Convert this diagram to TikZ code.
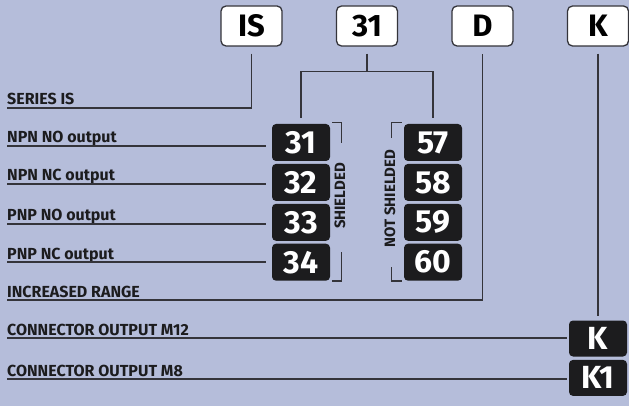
\documentclass[tikz,border=0pt]{standalone}
\usepackage{fontspec}
\setmainfont{Fira Sans}
\newfontfamily\codefont{Fira Sans Bold}
\usetikzlibrary{positioning}
\definecolor{bgblue}{RGB}{181,189,218}
\definecolor{inkgray}{RGB}{52,52,58}
\definecolor{boxblack}{RGB}{28,28,30}

\begin{document}
\begin{tikzpicture}[x=1pt,y=-1pt,
  codebox/.style={draw=inkgray,fill=white,line width=1.3pt,rounded corners=5pt,
    minimum width=61pt,minimum height=40pt,inner sep=0pt,
    font=\codefont\fontsize{31}{31}\selectfont},
  numbox/.style={fill=boxblack,text=white,rounded corners=4pt,
    minimum width=58pt,minimum height=37pt,inner sep=0pt,
    font=\codefont\fontsize{32}{32}\selectfont},
  lbl/.style={anchor=base west,inner sep=0pt,text=boxblack,
    font=\codefont\fontsize{16}{16}\selectfont},
  tag/.style={rotate=90,inner sep=0pt,text=boxblack,
    font=\codefont\fontsize{15}{15}\selectfont},
  conn/.style={draw=inkgray,line width=1.2pt}]
\useasboundingbox[fill=bgblue] (0,0) rectangle (629,406);

% code boxes on top
\node[codebox] (is) at (251.5,26) {IS};
\node[codebox] (ser) at (367,26) {31};
\node[codebox] (d) at (482.5,26) {D};
\node[codebox] (k) at (598,26) {K};

% output codes
\node[numbox] (n31) at (301,142.5) {31};
\node[numbox,below=2.5pt of n31] (n32) {32};
\node[numbox,below=2.5pt of n32] (n33) {33};
\node[numbox,below=2.5pt of n33] (n34) {34};
\node[numbox] (n57) at (433,142.5) {57};
\node[numbox,below=2.5pt of n57] (n58) {58};
\node[numbox,below=2.5pt of n58] (n59) {59};
\node[numbox,below=2.5pt of n59] (n60) {60};

% connector codes
\node[numbox,minimum height=36pt] (kk) at (598,338.5) {K};
\node[numbox,minimum height=36pt,below=3pt of kk] (k1) {K1};

% labels
\node[lbl] (lSer) at (7,105) {SERIES IS};
\node[lbl] (lNpnNo) at (7,143) {NPN NO output};
\node[lbl] (lNpnNc) at (7,181) {NPN NC output};
\node[lbl] (lPnpNo) at (7,221) {PNP NO output};
\node[lbl] (lPnpNc) at (7,259) {PNP NC output};
\node[lbl] (lRange) at (7,297) {INCREASED RANGE};
\node[lbl] (lM12) at (7,335) {CONNECTOR OUTPUT M12};
\node[lbl] (lM8) at (7,376) {CONNECTOR OUTPUT M8};

% shielding tags
\node[tag] (shield) at (340,196) {SHIELDED};
\node[tag] (noshield) at (390,198.5) {NOT SHIELDED};
\draw[conn] ([xshift=2pt,yshift=1pt]n31.north east) -| ++(9,20);
\draw[conn] ([xshift=2pt]n34.south east) -| ++(9,-29);
\draw[conn] ([xshift=-2pt,yshift=1pt]n57.north west) -| ++(-10,15);
\draw[conn] ([xshift=-2pt]n60.south west) -| ++(-10,-14);

% connectors
\draw[conn] ([yshift=-7pt]is.south) |- ([yshift=-3pt]lSer.base west);
\draw[conn] ([yshift=-7pt]ser.south) -- ++(0,18) coordinate (fork);
\draw[conn] ([yshift=6pt]n31.north) |- (fork) -| ([yshift=6pt]n57.north);
\foreach \l/\b in {lNpnNo/n31,lNpnNc/n32,lPnpNo/n33,lPnpNc/n34}
  \draw[conn,shorten >=6pt] ([yshift=-3pt]\l.base west) -- ([yshift=-3pt]\l.base west -| \b.west);
\draw[conn] ([yshift=-3pt]lRange.base west) -| ([yshift=-7pt]d.south);
\draw[conn] ([yshift=-7pt]k.south) -- ([yshift=4pt]kk.north);
\draw[conn,shorten >=2pt] ([yshift=-3pt]lM12.base west) -- ([yshift=-3pt]lM12.base west -| kk.west);
\draw[conn,shorten >=2pt] ([yshift=-3pt]lM8.base west) -- ([yshift=-3pt]lM8.base west -| k1.west);
\end{tikzpicture}
\end{document}
